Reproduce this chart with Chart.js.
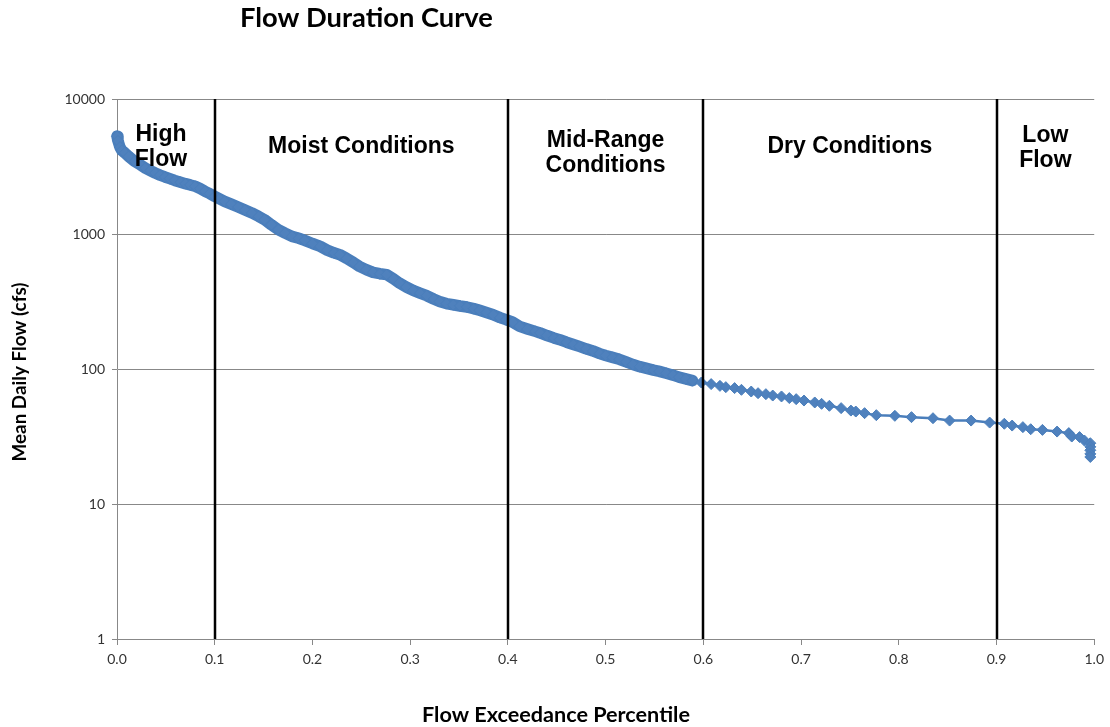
<!DOCTYPE html>
<html>
<head>
<meta charset="utf-8">
<script src="https://cdn.jsdelivr.net/npm/chart.js@4.4.1/dist/chart.umd.min.js"></script>
<style>
  html, body { margin: 0; padding: 0; background: #fff; }
  #wrap { width: 1110px; height: 727px; }
</style>
</head>
<body>
<div id="wrap"><canvas id="c" width="1110" height="727"></canvas></div>
<script>
// ---- data ----
const flowX = [
  0.000, 0.001, 0.003, 0.005, 0.008, 0.012, 0.018, 0.024, 0.029, 0.034,
  0.039, 0.044, 0.049, 0.054, 0.059, 0.065, 0.070, 0.075, 0.080, 0.085,
  0.090, 0.095, 0.100, 0.105, 0.110, 0.117, 0.124, 0.131, 0.138, 0.145,
  0.151, 0.158, 0.165, 0.172, 0.179, 0.186, 0.192, 0.200, 0.208, 0.215,
  0.222, 0.228, 0.235, 0.242, 0.248, 0.255, 0.262, 0.269, 0.276, 0.283,
  0.289, 0.296, 0.303, 0.310, 0.317, 0.324, 0.330, 0.337, 0.344, 0.351,
  0.358, 0.365, 0.371, 0.378, 0.385, 0.392, 0.398, 0.405, 0.412, 0.420,
  0.428, 0.433, 0.440, 0.447, 0.453, 0.460, 0.467, 0.473, 0.480, 0.487,
  0.494, 0.500, 0.507, 0.514, 0.521, 0.528, 0.535, 0.542, 0.549, 0.555,
  0.562, 0.569, 0.575, 0.582, 0.589,
  0.598, 0.608, 0.617, 0.623, 0.632, 0.639, 0.649, 0.656, 0.664, 0.671,
  0.680, 0.688, 0.695, 0.703, 0.714, 0.721, 0.729, 0.741, 0.751, 0.756,
  0.765, 0.777, 0.796, 0.813, 0.835, 0.852, 0.874, 0.893, 0.908, 0.916,
  0.927, 0.935, 0.947, 0.962, 0.974, 0.977, 0.985, 0.990, 0.996, 0.996,
  0.996, 0.996, 0.996
];
const flowY = [
  5300, 4900, 4400, 4150, 3990, 3750, 3450, 3250, 3080, 2950,
  2830, 2730, 2645, 2570, 2495, 2420, 2360, 2310, 2255, 2170,
  2070, 1990, 1900, 1820, 1745, 1665, 1585, 1505, 1432, 1350,
  1277, 1170, 1077, 1015, 960, 930, 897, 850, 810, 760,
  725, 703, 660, 615, 576, 545, 520, 508, 500, 465,
  433, 405, 382, 365, 349, 330, 316, 305, 299, 293,
  288, 280, 272, 262, 252, 240, 232, 222, 207, 198,
  190, 185, 177, 170, 165, 158, 152, 147, 141, 136,
  130, 126, 122, 118, 113, 108, 104, 101, 98, 96,
  93, 90, 87, 84.5, 82,
  79.4, 77.3, 75, 73.4, 72.2, 70.1, 68.1, 66.2, 65.1, 63.6,
  62.6, 60.9, 59.8, 58.4, 56.5, 55.2, 53.4, 51.3, 49.2, 48.4,
  47.1, 45.5, 45, 44, 43.2, 41.5, 41.5, 40.1, 39.3, 38.1,
  37.1, 35.8, 35.4, 34.4, 33.5, 31.6, 31.3, 29.5, 28.2, 26.5,
  25, 23.5, 22.3
];
const xTicks = [0.0, 0.1, 0.2, 0.3, 0.4, 0.5, 0.6, 0.7, 0.8, 0.9, 1.0];
const yTicks = [1, 10, 100, 1000, 10000];
const zoneBoundaries = [0.1, 0.4, 0.6, 0.9];
const zoneLabels = [["High", "Flow"], ["Moist Conditions"], ["Mid-Range", "Conditions"], ["Dry Conditions"], ["Low", "Flow"]];
const zoneCenters = [0.045, 0.25, 0.5, 0.75, 0.95];

const chartTitle = "Flow Duration Curve";
const xTitle = "Flow Exceedance Percentile";
const yTitle = "Mean Daily Flow (cfs)";

// ---- styling / layout ----
const zoneBaselines = [141, 153, 147, 153, 142];
const zoneLineGap = 24.5;
const calFamily = 'Lato, "Open Sans", sans-serif';
const gridGray = '#888888';
const denseLimit = 0.595;   // where the daily points merge into a solid band

function fitSize(ctx, text, weight, family, target) {
  ctx.font = weight + ' 100px ' + family;
  return 100 * target / ctx.measureText(text).width;
}

const overlay = {
  id: 'overlay',
  afterDatasetsDraw(chart) {
    const { ctx, chartArea, scales: { x } } = chart;
    ctx.save();
    ctx.strokeStyle = '#000';
    ctx.lineWidth = 2.5;
    zoneBoundaries.forEach(b => {
      const px = Math.round(x.getPixelForValue(b));
      ctx.beginPath();
      ctx.moveTo(px, chartArea.top);
      ctx.lineTo(px, chartArea.bottom);
      ctx.stroke();
    });
    ctx.fillStyle = '#000';
    ctx.textAlign = 'center';
    ctx.textBaseline = 'alphabetic';
    ctx.font = 'bold 23px "Liberation Sans", Arial, sans-serif';
    zoneLabels.forEach((lines, i) => {
      const px = x.getPixelForValue(zoneCenters[i]);
      lines.forEach((t, j) => ctx.fillText(t, px, zoneBaselines[i] + j * zoneLineGap));
    });
    ctx.restore();
  },
  afterDraw(chart) {
    const ctx = chart.ctx;
    ctx.save();
    ctx.fillStyle = '#000';
    ctx.textBaseline = 'alphabetic';
    ctx.textAlign = 'left';
    let s = fitSize(ctx, chartTitle, 'bold', calFamily, 253);
    ctx.font = 'bold ' + s + 'px ' + calFamily;
    ctx.fillText(chartTitle, 240, 27);
    s = fitSize(ctx, xTitle, 'bold', calFamily, 268);
    ctx.font = 'bold ' + s + 'px ' + calFamily;
    ctx.fillText(xTitle, 422, 722);
    s = fitSize(ctx, yTitle, 'bold', calFamily, 179);
    ctx.font = 'bold ' + s + 'px ' + calFamily;
    ctx.translate(20, 372);
    ctx.rotate(-Math.PI / 2);
    ctx.textAlign = 'center';
    ctx.textBaseline = 'middle';
    ctx.fillText(yTitle, 0, 0);
    ctx.restore();
  }
};

const points = flowX.map((v, i) => ({ x: v, y: flowY[i] }));

new Chart(document.getElementById('c'), {
  type: 'scatter',
  data: {
    datasets: [{
      data: points,
      showLine: true,
      clip: false,
      borderColor: '#4A7EBB',
      borderWidth: 2.5,
      borderCapStyle: 'round',
      borderJoinStyle: 'round',
      segment: {
        borderWidth: c => (c.p1.parsed.x < denseLimit ? 11.5 : 2.5)
      },
      backgroundColor: '#4F81BD',
      pointStyle: 'rectRot',
      pointRadius: 5.5,
      pointBorderWidth: 1,
      pointBorderColor: '#4A7EBB',
      pointBackgroundColor: '#4F81BD',
      tension: 0
    }]
  },
  options: {
    responsive: false,
    animation: false,
    events: [],
    layout: { padding: { top: 99, right: 15, left: 0, bottom: 0 } },
    plugins: { legend: { display: false }, tooltip: { enabled: false }, title: { display: false } },
    scales: {
      x: {
        type: 'linear',
        min: 0, max: 1,
        afterBuildTicks: s => { s.ticks = xTicks.map(v => ({ value: v })); },
        afterFit: s => { s.height = 88; },
        grid: { drawOnChartArea: false, drawTicks: true, tickLength: 6, color: gridGray, lineWidth: 1 },
        border: { color: gridGray, width: 1 },
        ticks: {
          callback: v => Number(v).toFixed(1),
          padding: 6, autoSkip: false, maxRotation: 0,
          font: { family: calFamily, size: 14 }, color: '#333'
        }
      },
      y: {
        type: 'logarithmic',
        min: 1, max: 10000,
        afterBuildTicks: s => { s.ticks = yTicks.map(v => ({ value: v })); },
        afterFit: s => { s.width = 117; },
        grid: { color: gridGray, lineWidth: 1, tickLength: 5 },
        border: { color: gridGray, width: 1 },
        ticks: {
          callback: v => String(v),
          padding: 7, autoSkip: false,
          font: { family: calFamily, size: 14 }, color: '#333'
        }
      }
    }
  },
  plugins: [overlay]
});
</script>
</body>
</html>
